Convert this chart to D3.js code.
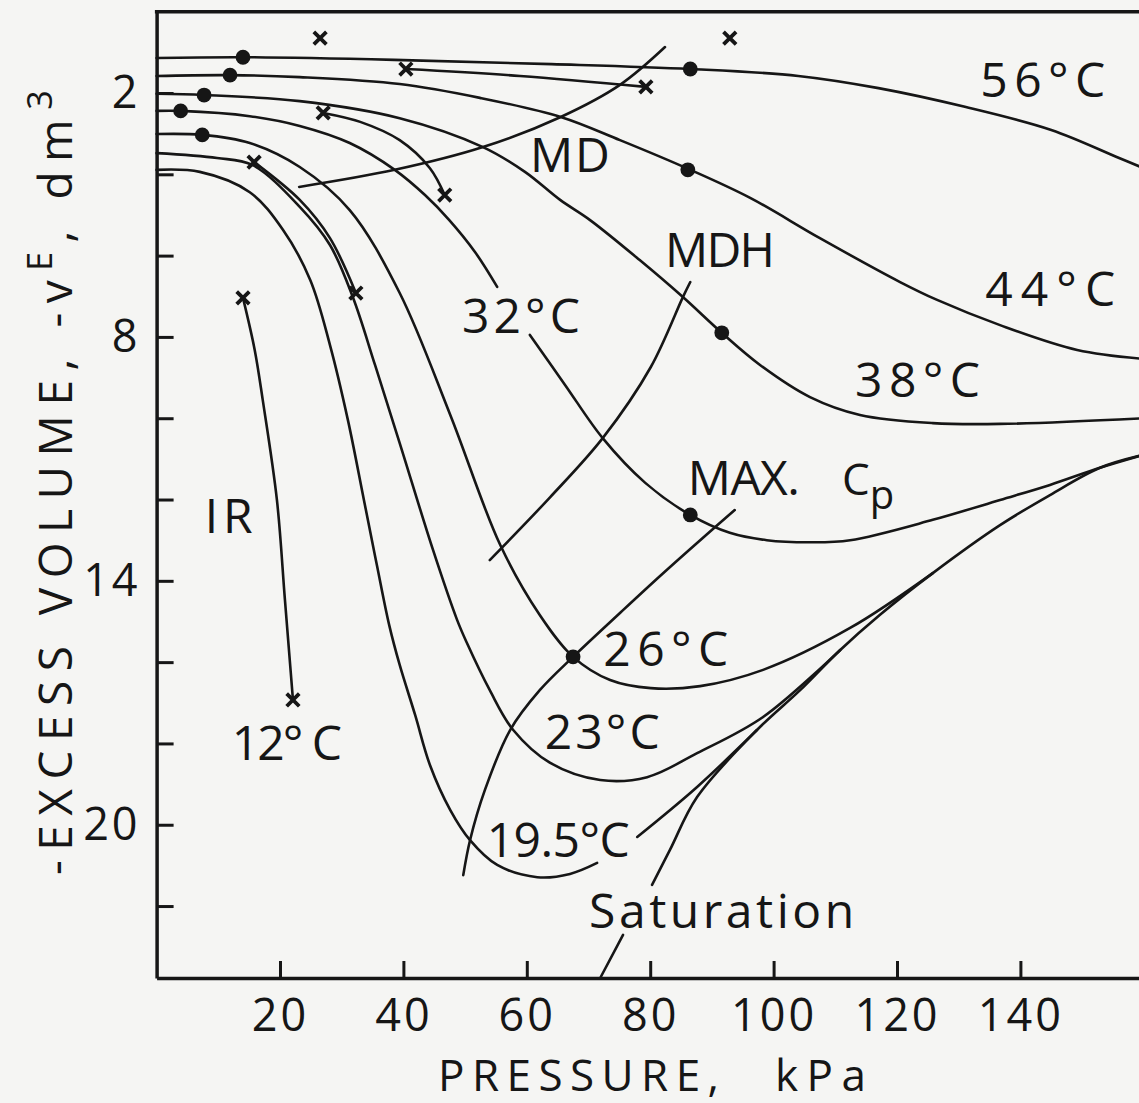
<!DOCTYPE html>
<html>
<head>
<meta charset="utf-8">
<script src="https://cdn.jsdelivr.net/npm/d3@7"></script>
<style>
  html, body { margin: 0; padding: 0; background: #f5f5f3; }
  svg { display: block; }
  text { font-family: "Open Sans", "Noto Sans", "DejaVu Sans", sans-serif; fill: #161616; }
</style>
</head>
<body>
<svg id="chart" width="1139" height="1103"></svg>
<script>
// ---------------- data (pressure kPa, -V^E dm3) ----------------
const pressureTicks = [20, 40, 60, 80, 100, 120, 140];
const volumeTicks = [2, 4, 6, 8, 10, 12, 14, 16, 18, 20, 22];
const volumeLabelled = [2, 8, 14, 20];

const iso56 = [[0,1.14],[14,1.12],[40,1.19],[64,1.29],[86.5,1.41],[104,1.58],[117,1.88],[131,2.34],[145,2.91],[156,3.60],[160,3.85]];
const iso44 = [[0,1.58],[11.9,1.56],[23.2,1.61],[39.4,1.78],[52.4,2.12],[65.5,2.59],[75.1,3.16],[86.5,3.89],[96.2,4.58],[107.5,5.57],[120.5,6.65],[126.5,7.09],[136.7,7.71],[149.2,8.32],[160,8.54]];
const iso38 = [[0,2.02],[7.7,2.05],[23.2,2.20],[39.4,2.62],[52.9,3.33],[59.7,3.94],[65.4,4.63],[70.2,5.12],[78.3,6.11],[85.3,7.02],[91.6,7.90],[97.8,8.69],[105.9,9.48],[114,9.92],[125.8,10.12],[136.7,10.14],[160,10.0]];
const iso32Upper = [[0,2.44],[3.9,2.44],[15.1,2.57],[23.2,2.81],[31.3,3.23],[38.6,3.89],[43.5,4.51],[47.4,5.12],[51.6,5.91],[55.2,6.77]];
const iso32Lower = [[60.5,7.95],[66.2,9.18],[72.3,10.49],[79.2,11.59],[86.5,12.38],[92.9,12.82],[98.9,13.0],[105.9,13.05],[112.4,13.0],[125.8,12.5],[136.7,12.01],[144.8,11.64],[152.9,11.22],[160,10.9]];
const iso26 = [[0,3.01],[7.4,3.03],[15.1,3.23],[23.2,3.82],[31.3,4.88],[39.4,6.92],[47.6,9.92],[55.7,13.12],[62.1,14.84],[67.5,15.87],[73.5,16.44],[80.1,16.64],[88.1,16.59],[98.3,16.19],[112.4,15.16],[125.8,13.81]];
const iso23 = [[0,3.48],[9.8,3.60],[15.5,3.77],[23.2,4.80],[28.1,5.74],[31.8,7.02],[35.4,8.69],[39.4,10.61],[44.8,13.24],[48.7,14.96],[50.3,15.53],[54.0,16.69],[57.8,17.67],[63.8,18.48],[71.9,18.90],[79.5,18.83],[87.6,18.24],[98.3,17.35],[110.8,15.70]];
const iso195Left = [[0,3.89],[7.0,3.94],[15.1,4.44],[20.5,5.37],[24.9,6.60],[28.1,8.20],[31.0,10.04],[33.6,12.01],[35.7,13.61],[37.7,15.09],[39.4,16.07],[41.9,17.30],[44.3,18.53],[47.6,19.64],[50.8,20.38],[55.2,20.99],[61.7,21.29],[67.0,21.21],[71.4,20.94]];
const iso195Right = [[77.9,20.30],[87.6,19.07],[97.3,17.67]];
const saturationLower = [[71.9,23.77],[75.6,22.71]];
const saturationUpper = [[80.3,21.48],[83.2,20.62],[87.6,19.32],[97.3,17.67],[104.3,16.69],[110.8,15.70],[117.2,14.84],[125.8,13.81],[136.7,12.63],[144.8,11.89],[152.9,11.22],[160,10.9]];
const mdLocus = [[23.1,4.31],[38.6,3.89],[52.9,3.33],[65.5,2.59],[75.1,1.80],[82.4,0.87]];
const mdhLocus = [[54.0,13.49],[63.8,11.94],[72.3,10.49],[80.1,8.74],[85.3,7.02],[86.5,6.65]];
const maxCpLocus = [[49.7,21.24],[50.8,20.38],[53.2,19.15],[57.3,17.67],[62.1,16.69],[67.5,15.87],[75.1,14.79],[81.6,13.88],[88.1,13.0],[93.7,12.26]];
const ir12 = [[14.0,7.04],[15.9,8.32],[17.2,9.55],[19.5,12.01],[20.8,14.47],[22.1,16.93]];
const ir23 = [[15.8,3.70],[23.2,4.63],[28.1,5.57],[32.3,6.92]];
const ir32 = [[27.0,2.49],[33.0,2.71],[39.4,3.16],[44.3,3.85],[46.7,4.51]];
const ir44 = [[40.4,1.41],[58.9,1.58],[79.3,1.85]];
const irLone = [[26.5,0.65],[92.9,0.65]];
const dots = [[14,1.12],[86.5,1.41],[11.9,1.56],[86.1,3.89],[7.7,2.05],[91.6,7.90],[3.9,2.44],[86.5,12.38],[7.4,3.03],[67.5,15.87]];

// annotation texts: [text, pressure, volume(baseline), textLength]
const curveLabels = [
  ["56°C", 133.5, 2.10, 125],
  ["MD", 60.5, 3.94, 80],
  ["44°C", 134.3, 7.24, 130],
  ["MDH", 82.4, 6.28, 110],
  ["32°C", 49.5, 7.90, 118],
  ["38°C", 113.2, 9.48, 125],
  ["MAX.", 86.1, 11.89, 112],
  ["IR", 7.8, 12.82, 48],
  ["26°C", 72.4, 16.10, 125],
  ["23°C", 62.9, 18.14, 115],
  ["12° C", 12.2, 18.41, 110],
  ["19.5°C", 53.5, 20.79, 143],
  ["Saturation", 70.1, 22.54, 265]
];
const cpLabel = ["C", 111.1, 11.89];
const cpSub = ["p", 115.6, 12.24];

// ---------------- drawing ----------------
const W = 1139, H = 1103;
const ink = "#161616";
const svg = d3.select("#chart");
svg.append("rect").attr("width", W).attr("height", H).attr("fill", "#f5f5f3");

const x = d3.scaleLinear().domain([0, 160]).range([156.6, 1143.8]);
const y = d3.scaleLinear().domain([0, 23.77]).range([11.7, 978]);

const line = d3.line().x(d => x(d[0])).y(d => y(d[1])).curve(d3.curveCatmullRom.alpha(0.5));

const curves = [iso56, iso44, iso38, iso32Upper, iso32Lower, iso26, iso23, iso195Left, iso195Right,
  saturationLower, saturationUpper, mdLocus, mdhLocus, maxCpLocus, ir12, ir23, ir32, ir44];

svg.append("g").selectAll("path").data(curves).join("path")
  .attr("d", line).attr("fill", "none").attr("stroke", ink)
  .attr("stroke-width", 2.6).attr("stroke-linejoin", "round").attr("stroke-linecap", "round");

// IR end markers
const irEnds = [ir12, ir23, ir32, ir44].flatMap(s => [s[0], s[s.length - 1]]).concat(irLone);
const cross = d3.symbol().type(d3.symbolTimes).size(105);
svg.append("g").selectAll("path").data(irEnds).join("path")
  .attr("transform", d => `translate(${x(d[0])},${y(d[1])})`)
  .attr("d", cross).attr("fill", "none").attr("stroke", ink).attr("stroke-width", 3.8);

// filled dots
svg.append("g").selectAll("circle").data(dots).join("circle")
  .attr("cx", d => x(d[0])).attr("cy", d => y(d[1])).attr("r", 7.4).attr("fill", ink);

// axes
const yAxis = d3.axisLeft(y).tickValues(volumeTicks).tickSizeInner(-17).tickSizeOuter(0).tickPadding(16)
  .tickFormat(d => volumeLabelled.includes(d) ? String(d) : "");
const gy = svg.append("g").attr("transform", `translate(${x(0)},0)`).call(yAxis);

const xAxis = d3.axisBottom(x).tickValues(pressureTicks).tickSizeInner(-17).tickSizeOuter(0).tickPadding(21);
const gx = svg.append("g").attr("transform", `translate(0,${y.range()[1]})`).call(xAxis);

[gx, gy].forEach(g => {
  g.select(".domain").attr("stroke", ink).attr("stroke-width", 3.5);
  g.selectAll(".tick line").attr("stroke", ink).attr("stroke-width", 3);
  g.selectAll(".tick text").attr("font-size", 45).attr("font-family", null).attr("fill", ink)
    .attr("letter-spacing", 3);
});

// top frame
svg.append("line").attr("x1", x(0) - 1.7).attr("x2", x(160)).attr("y1", y(0)).attr("y2", y(0))
  .attr("stroke", ink).attr("stroke-width", 3.5);

// curve labels
svg.append("g").selectAll("text").data(curveLabels).join("text")
  .attr("x", d => x(d[1])).attr("y", d => y(d[2]))
  .attr("font-size", 48)
  .attr("textLength", d => d[3]).attr("lengthAdjust", "spacing")
  .text(d => d[0]);
svg.append("text").attr("x", x(cpLabel[1])).attr("y", y(cpLabel[2])).attr("font-size", 44).text(cpLabel[0]);
svg.append("text").attr("x", x(cpSub[1])).attr("y", y(cpSub[2])).attr("font-size", 40).text(cpSub[0]);

// axis titles
svg.append("text").attr("x", 438).attr("y", 1091).attr("font-size", 44)
  .attr("textLength", 281).attr("lengthAdjust", "spacing").text("PRESSURE,");
svg.append("text").attr("x", 775).attr("y", 1091).attr("font-size", 44)
  .attr("textLength", 91).attr("lengthAdjust", "spacing").text("kPa");

const yt = svg.append("text").attr("transform", "translate(72,875) rotate(-90)")
  .attr("font-size", 46).attr("letter-spacing", 9.5);
yt.append("tspan").text("-EXCESS VOLUME, -v");
yt.append("tspan").attr("dy", -20).attr("font-size", 34).text("E");
yt.append("tspan").attr("dy", 20).text(", dm");
yt.append("tspan").attr("dy", -20).attr("font-size", 34).text("3");
</script>
</body>
</html>
